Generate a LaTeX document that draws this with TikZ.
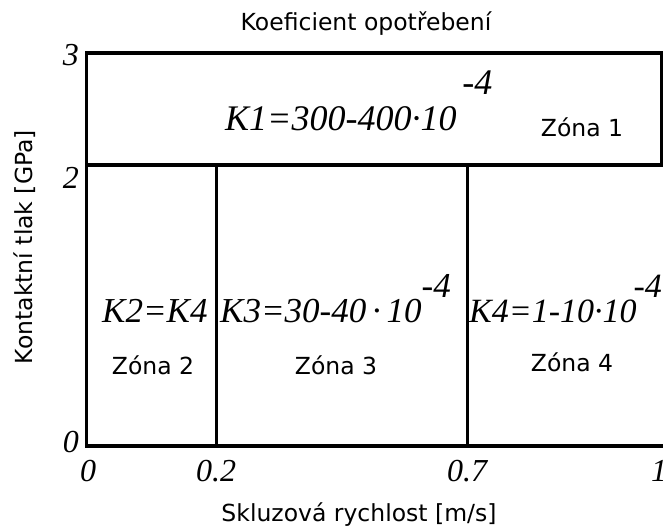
\documentclass[tikz,border=0pt]{standalone}
\usepackage{fontspec}
\setmainfont{Liberation Serif}
\newfontfamily\lblfont{DejaVu Sans}
\begin{document}
\begin{tikzpicture}[x=1pt,y=-1pt,
  frame/.style={line width=3.5pt},
  divider/.style={line width=3pt},
  sans/.style={font=\lblfont\fontsize{23.5}{26}\selectfont, inner sep=0pt},
  coef/.style={font=\itshape\fontsize{35}{40}\selectfont, inner sep=0pt, anchor=base west},
  tick/.style={font=\itshape\fontsize{32}{36}\selectfont, inner sep=0pt}]
\useasboundingbox (0,0) rectangle (663,528);
\fill[white] (0,0) rectangle (663,528);

% frame corners and zone boundaries
\coordinate (tl) at (86.5,53);
\coordinate (tr) at (661.5,53);
\coordinate (bl) at (86.5,446);
\coordinate (br) at (670,446);
\coordinate (sl) at (86.5,165);
\coordinate (sr) at (670,165);
\coordinate (a1) at (216,165);
\coordinate (b1) at (216,446);
\coordinate (a2) at (467,165);
\coordinate (b2) at (467,446);

\draw[frame] (sr) -| (tr) -- (tl) -- (bl) -- (br);
\draw[frame] (sl) -- (sr);
\draw[divider] (a1) -- (b1);
\draw[divider] (a2) -- (b2);

% title and axis labels
\node[sans, anchor=base] (title) at (366,30) {Koeficient opotřebení};
\node[sans, anchor=base] (xlab) at (359,521) {Skluzová rychlost [m/s]};
\node[sans, anchor=center, rotate=90] (ylab) at (25,247) {Kontaktní tlak [GPa]};

% tick labels
\node[tick, anchor=base east] (y3) at (79,65) {3};
\node[tick, anchor=base east] (y2) at (79,188) {2};
\node[tick, anchor=base east] (y0) at (79,452) {0};
\node[tick, anchor=base] (x0) at (88,481) {0};
\node[tick, anchor=base] (x02) at (216,481) {0.2};
\node[tick, anchor=base] (x07) at (467,481) {0.7};
\node[tick, anchor=base west] (x1) at (651,481) {1};

% wear coefficients
\node[coef, font=\itshape\fontsize{36}{40}\selectfont] (k1) at (225,130) {K1=300-400·10\kern6pt\raisebox{36pt}{-4}};
\node[coef] (k2) at (102,322) {K2=K4};
\node[coef] (k3) at (220,322) {K3=30-40\,·\,10\raisebox{25pt}{-4}};
\node[coef, font=\itshape\fontsize{34}{40}\selectfont] (k4) at (469,322) {K4=1-10·10\kern-3pt\raisebox{25pt}{-4}};

% zone names
\node[sans, anchor=base] (z1) at (582,136) {Zóna 1};
\node[sans, anchor=base] (z2) at (153,374) {Zóna 2};
\node[sans, anchor=base] (z3) at (336,374) {Zóna 3};
\node[sans, anchor=base] (z4) at (572,371) {Zóna 4};
\end{tikzpicture}
\end{document}
